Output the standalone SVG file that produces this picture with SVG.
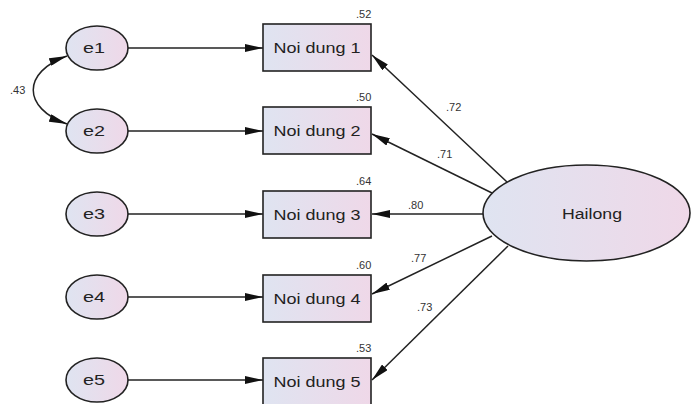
<svg xmlns="http://www.w3.org/2000/svg" width="691" height="404" viewBox="0 0 691 404">
<defs>
<linearGradient id="g" x1="0" y1="0" x2="1" y2="0">
<stop offset="0" stop-color="#dfe4f1"/>
<stop offset="1" stop-color="#efd8e8"/>
</linearGradient>
<marker id="ah" viewBox="0 0 18 8" refX="18" refY="4" markerWidth="18" markerHeight="8" markerUnits="userSpaceOnUse" orient="auto-start-reverse">
<path d="M0,0 L18,4 L0,8 Z" fill="#111"/>
</marker>
<style>
.sh{fill:url(#g);stroke:#222;stroke-width:1.6}
.ln{fill:none;stroke:#222;stroke-width:1.5}
.t{font-family:"Liberation Sans",Arial,sans-serif;font-size:14px;fill:#222;text-anchor:middle}
.s{font-family:"Liberation Sans",Arial,sans-serif;font-size:11px;fill:#333}
</style>
</defs>
<rect width="691" height="404" fill="#fff"/>
<g id="connectors">
<line class="ln" x1="128" y1="48" x2="263" y2="48" marker-end="url(#ah)"/>
<line class="ln" x1="128" y1="131" x2="263" y2="131" marker-end="url(#ah)"/>
<line class="ln" x1="128" y1="214" x2="263" y2="214" marker-end="url(#ah)"/>
<line class="ln" x1="128" y1="297" x2="263" y2="297" marker-end="url(#ah)"/>
<line class="ln" x1="128" y1="380" x2="263" y2="380" marker-end="url(#ah)"/>
<path class="ln" d="M67,56 C22,72 22,108 67,124" marker-start="url(#ah)" marker-end="url(#ah)"/>
<line class="ln" x1="507" y1="182" x2="372" y2="55" marker-end="url(#ah)"/>
<line class="ln" x1="492" y1="193" x2="372" y2="134" marker-end="url(#ah)"/>
<line class="ln" x1="483" y1="214" x2="372" y2="214" marker-end="url(#ah)"/>
<line class="ln" x1="492" y1="236" x2="372" y2="294" marker-end="url(#ah)"/>
<line class="ln" x1="508" y1="246" x2="372" y2="380" marker-end="url(#ah)"/>
<text class="s" x="10" y="94">.43</text>
<text class="s" x="446" y="111">.72</text>
<text class="s" x="437" y="158">.71</text>
<text class="s" x="408" y="209">.80</text>
<text class="s" x="411" y="262">.77</text>
<text class="s" x="417" y="311">.73</text>
</g>
<g id="e1"><ellipse class="sh" cx="97" cy="48" rx="31" ry="22"/><text class="t" x="94" y="53" textLength="22" lengthAdjust="spacingAndGlyphs">e1</text></g>
<g id="e2"><ellipse class="sh" cx="97" cy="131" rx="31" ry="22"/><text class="t" x="94" y="136" textLength="22" lengthAdjust="spacingAndGlyphs">e2</text></g>
<g id="e3"><ellipse class="sh" cx="97" cy="214" rx="31" ry="22"/><text class="t" x="94" y="219" textLength="22" lengthAdjust="spacingAndGlyphs">e3</text></g>
<g id="e4"><ellipse class="sh" cx="97" cy="297" rx="31" ry="22"/><text class="t" x="94" y="302" textLength="22" lengthAdjust="spacingAndGlyphs">e4</text></g>
<g id="e5"><ellipse class="sh" cx="97" cy="380" rx="31" ry="22"/><text class="t" x="94" y="385" textLength="22" lengthAdjust="spacingAndGlyphs">e5</text></g>
<g id="n1"><rect class="sh" x="263" y="24" width="108" height="47"/><text class="t" x="317" y="53" textLength="87" lengthAdjust="spacingAndGlyphs">Noi dung 1</text><text class="s" x="356" y="18">.52</text></g>
<g id="n2"><rect class="sh" x="263" y="107" width="108" height="47"/><text class="t" x="317" y="136" textLength="87" lengthAdjust="spacingAndGlyphs">Noi dung 2</text><text class="s" x="356" y="101">.50</text></g>
<g id="n3"><rect class="sh" x="263" y="191" width="108" height="47"/><text class="t" x="317" y="220" textLength="87" lengthAdjust="spacingAndGlyphs">Noi dung 3</text><text class="s" x="356" y="185">.64</text></g>
<g id="n4"><rect class="sh" x="263" y="275" width="108" height="47"/><text class="t" x="317" y="304" textLength="87" lengthAdjust="spacingAndGlyphs">Noi dung 4</text><text class="s" x="356" y="269">.60</text></g>
<g id="n5"><rect class="sh" x="263" y="358" width="108" height="47"/><text class="t" x="317" y="387" textLength="87" lengthAdjust="spacingAndGlyphs">Noi dung 5</text><text class="s" x="356" y="352">.53</text></g>
<g id="hailong"><ellipse class="sh" cx="586.5" cy="213" rx="103.5" ry="48"/><text class="t" x="592" y="219" textLength="60" lengthAdjust="spacingAndGlyphs">Hailong</text></g>
</svg>
